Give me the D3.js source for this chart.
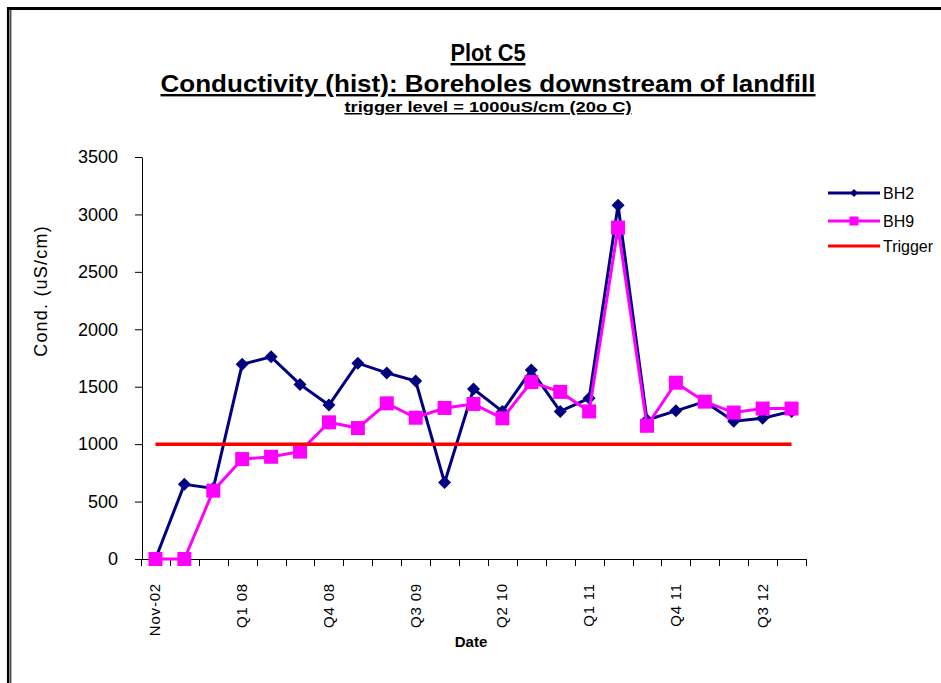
<!DOCTYPE html>
<html>
<head>
<meta charset="utf-8">
<script src="https://cdnjs.cloudflare.com/ajax/libs/d3/7.8.5/d3.min.js"></script>
<style>
  html, body { margin: 0; padding: 0; background: #fff; }
  svg { display: block; font-family: "Liberation Sans", Arial, sans-serif; }
</style>
</head>
<body>
<svg id="chart" width="941" height="683"></svg>
<script>
'use strict';

// quarters sampled at each borehole
var categories = ['Nov-02', 'Q3 07', 'Q4 07', 'Q1 08', 'Q2 08', 'Q3 08', 'Q4 08',
                  'Q1 09', 'Q2 09', 'Q3 09', 'Q4 09', 'Q1 10', 'Q2 10', 'Q3 10',
                  'Q4 10', 'Q1 11', 'Q2 11', 'Q3 11', 'Q4 11', 'Q1 12', 'Q2 12',
                  'Q3 12', 'Q4 12'];

var bh2 = [0, 650, 615, 1695, 1760, 1520, 1340, 1705, 1620, 1550, 665, 1480,
           1285, 1645, 1285, 1400, 3080, 1210, 1290, 1370, 1200, 1225, 1285];

var bh9 = [0, 0, 595, 870, 890, 935, 1190, 1140, 1355, 1230, 1315, 1350,
           1225, 1540, 1455, 1285, 2885, 1160, 1535, 1370, 1275, 1310, 1310];

var triggerLevel = 1000;
var yTicks = [0, 500, 1000, 1500, 2000, 2500, 3000, 3500];
var legendNames = ['BH2', 'BH9', 'Trigger'];

var NAVY = '#000080',
    MAGENTA = '#ff00ff',
    RED = '#ff0000';

var svg = d3.select('#chart');

var x = d3.scaleBand()
          .domain(categories)
          .range([141, 806])
          .padding(0);

var y = d3.scaleLinear()
          .domain([0, 3500])
          .range([559, 157]);

function cx(i) {
  return x(categories[i]) + x.bandwidth() / 2;
}

// frame round the chart area
svg.append('line').attr('x1', 7).attr('x2', 941).attr('y1', 8.5).attr('y2', 8.5)
   .attr('stroke', '#000').attr('stroke-width', 3);
svg.append('line').attr('x1', 8.2).attr('x2', 8.2).attr('y1', 7).attr('y2', 683)
   .attr('stroke', '#000').attr('stroke-width', 2.5);
svg.append('line').attr('x1', 10.8).attr('x2', 10.8).attr('y1', 10).attr('y2', 683)
   .attr('stroke', '#000').attr('stroke-width', 1);

// titles
function title(txt, ty, size, len) {
  svg.append('text')
     .attr('x', 488)
     .attr('y', ty)
     .attr('text-anchor', 'middle')
     .attr('font-weight', 'bold')
     .attr('font-size', size)
     .attr('textLength', len)
     .attr('lengthAdjust', 'spacingAndGlyphs')
     .style('text-decoration', 'underline')
     .text(txt);
}
title('Plot C5', 61, 24, 75);
title('Conductivity (hist): Boreholes downstream of landfill', 92, 24, 655);
title('trigger level = 1000uS/cm  (20o C)', 112, 15, 287);

// y axis
var yAxis = d3.axisLeft(y)
              .tickValues(yTicks)
              .tickFormat(d3.format('d'))
              .tickSize(7)
              .tickSizeOuter(0)
              .tickPadding(17);

var gy = svg.append('g')
            .attr('transform', 'translate(142,0)')
            .call(yAxis);
gy.select('.domain').attr('stroke', '#000');
gy.selectAll('.tick line').attr('stroke', '#000');
gy.selectAll('.tick text')
  .attr('font-size', 18)
  .attr('fill', '#000')
  .attr('font-family', '"Liberation Sans", Arial, sans-serif');

svg.append('text')
   .attr('transform', 'translate(47,291) rotate(-90)')
   .attr('text-anchor', 'middle')
   .attr('font-size', 18)
   .style('letter-spacing', '1.2px')
   .text('Cond. (uS/cm)');

// x axis, ticks between categories
var xTickPos = categories.map(function (c) { return x(c); });
xTickPos.push(x.range()[1]);

svg.append('line')
   .attr('x1', x.range()[0]).attr('x2', x.range()[1])
   .attr('y1', y(0) + 0.5).attr('y2', y(0) + 0.5)
   .attr('stroke', '#000');

svg.append('g')
   .selectAll('line')
   .data(xTickPos)
   .enter()
   .append('line')
   .attr('x1', function (d) { return Math.round(d) + 0.5; })
   .attr('x2', function (d) { return Math.round(d) + 0.5; })
   .attr('y1', y(0))
   .attr('y2', y(0) + 7)
   .attr('stroke', '#000');

svg.append('g')
   .selectAll('text')
   .data(categories.filter(function (c, i) { return i % 3 === 0; }))
   .enter()
   .append('text')
   .attr('transform', function (d) {
     return 'translate(' + (x(d) + x.bandwidth() / 2 + 5) + ',583) rotate(-90)';
   })
   .attr('text-anchor', 'end')
   .attr('font-size', 15)
   .style('letter-spacing', '0.8px')
   .text(function (d) { return d; });

svg.append('text')
   .attr('x', 471)
   .attr('y', 647)
   .attr('text-anchor', 'middle')
   .attr('font-weight', 'bold')
   .attr('font-size', 15)
   .text('Date');

// series
var line = d3.line()
             .x(function (d, i) { return cx(i); })
             .y(function (d) { return y(d); });

function diamond(r) {
  return 'M0,' + (-r) + 'L' + r + ',0L0,' + r + 'L' + (-r) + ',0Z';
}

svg.append('path')
   .datum(bh2)
   .attr('d', line)
   .attr('fill', 'none')
   .attr('stroke', NAVY)
   .attr('stroke-width', 3);

svg.append('g')
   .selectAll('path')
   .data(bh2)
   .enter()
   .append('path')
   .attr('d', diamond(6.5))
   .attr('transform', function (d, i) { return 'translate(' + cx(i) + ',' + y(d) + ')'; })
   .attr('fill', NAVY);

svg.append('path')
   .datum(bh9)
   .attr('d', line)
   .attr('fill', 'none')
   .attr('stroke', MAGENTA)
   .attr('stroke-width', 3);

svg.append('g')
   .selectAll('rect')
   .data(bh9)
   .enter()
   .append('rect')
   .attr('x', function (d, i) { return cx(i) - 7; })
   .attr('y', function (d) { return y(d) - 7; })
   .attr('width', 14)
   .attr('height', 14)
   .attr('fill', MAGENTA);

svg.append('line')
   .attr('x1', cx(0))
   .attr('x2', cx(categories.length - 1))
   .attr('y1', y(triggerLevel))
   .attr('y2', y(triggerLevel))
   .attr('stroke', RED)
   .attr('stroke-width', 3.5);

// legend
var legendColors = [NAVY, MAGENTA, RED],
    legendY = [193, 221, 246];

var leg = svg.append('g')
             .selectAll('g')
             .data(legendNames)
             .enter()
             .append('g')
             .attr('transform', function (d, i) { return 'translate(0,' + legendY[i] + ')'; });

leg.append('line')
   .attr('x1', 828).attr('x2', 880)
   .attr('stroke', function (d, i) { return legendColors[i]; })
   .attr('stroke-width', 3);

leg.filter(function (d, i) { return i === 0; })
   .append('path')
   .attr('d', diamond(4))
   .attr('transform', 'translate(854,0)')
   .attr('fill', NAVY);

leg.filter(function (d, i) { return i === 1; })
   .append('rect')
   .attr('x', 849.5).attr('y', -4.5)
   .attr('width', 9).attr('height', 9)
   .attr('fill', MAGENTA);

leg.append('text')
   .attr('x', 883)
   .attr('dy', '0.35em')
   .attr('font-size', 16)
   .text(function (d) { return d; });
</script>
</body>
</html>
